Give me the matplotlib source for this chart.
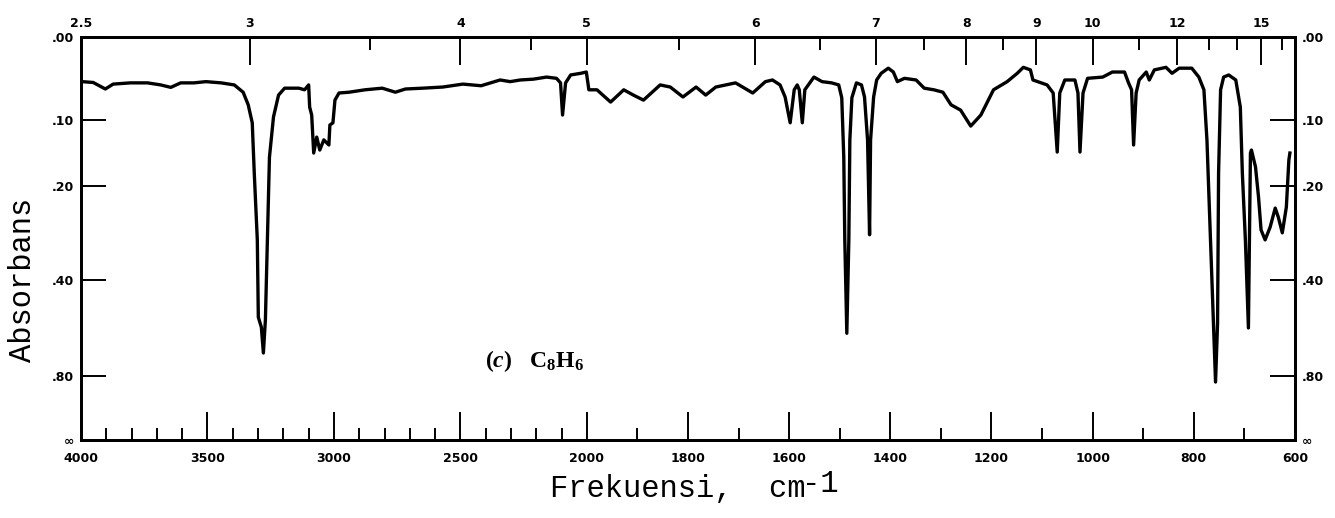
import numpy as np
import matplotlib
matplotlib.use("Agg")
from matplotlib import pyplot as plt

# teks rumus pakai serif tebal
plt.rcParams['mathtext.fontset'] = 'custom'
plt.rcParams['mathtext.rm'] = 'Liberation Serif:bold'
plt.rcParams['mathtext.it'] = 'Liberation Serif:italic:bold'
plt.rcParams['mathtext.bf'] = 'Liberation Serif:bold'

# spektrum IR C8H6
wavenumber = [3996, 3952, 3904, 3873, 3805, 3737, 3685, 3645, 3606, 3554, 3506, 3446, 3394,
              3359, 3339, 3323, 3315, 3303, 3299, 3287, 3279, 3271, 3263, 3255, 3239, 3219,
              3195, 3139, 3116, 3100, 3096, 3088, 3080, 3068, 3056, 3040, 3020, 3016, 3004,
              2996, 2980, 2940, 2877, 2809, 2757, 2717, 2649,
              2570, 2490, 2418, 2343, 2303, 2263, 2211, 2159, 2120, 2104, 2096, 2084, 2064,
              2024, 2002, 1996, 1980, 1953, 1927, 1908, 1888, 1855, 1835, 1810, 1784, 1765,
              1745, 1706, 1672, 1647, 1633, 1618, 1608, 1598, 1590, 1584, 1580, 1574, 1569,
              1551, 1535, 1516, 1502, 1496, 1492, 1490, 1486, 1482, 1480, 1476, 1467, 1457,
              1451, 1445, 1441, 1439, 1433, 1427, 1418, 1404, 1394, 1386, 1372, 1349, 1333,
              1314, 1296, 1280, 1261, 1241, 1221, 1196, 1169, 1149, 1137, 1123, 1118, 1090,
              1078, 1070, 1065, 1055, 1035, 1029, 1025, 1019, 1010,
              980, 961, 937, 929, 923, 919, 914, 908, 894, 888, 878, 855, 843, 829, 804, 790,
              780, 774, 767, 761, 757, 753, 751, 747, 741, 731, 717, 708, 704, 698, 692, 690,
              688, 686, 678, 672, 667, 659, 649, 639, 633, 625, 617, 612, 610]
absorbance = [0.051, 0.052, 0.060, 0.054, 0.0525, 0.0525, 0.055, 0.058, 0.0525, 0.0525, 0.051,
              0.0525, 0.055, 0.064, 0.080, 0.104, 0.179, 0.304, 0.516, 0.553, 0.666, 0.526,
              0.304, 0.154, 0.096, 0.0676, 0.059, 0.059, 0.061, 0.055, 0.083, 0.0935, 0.1475,
              0.124, 0.143, 0.128, 0.1355, 0.107, 0.104, 0.074, 0.065, 0.064, 0.061, 0.059,
              0.064, 0.060, 0.059,
              0.0576, 0.054, 0.056, 0.049, 0.051, 0.049, 0.048, 0.0455, 0.047, 0.0525, 0.0935,
              0.0525, 0.043, 0.041, 0.0395, 0.061, 0.061, 0.0765, 0.061, 0.0676, 0.074, 0.055,
              0.0576, 0.070, 0.0576, 0.0676, 0.0576, 0.0525, 0.065, 0.051, 0.049, 0.055, 0.070,
              0.104, 0.061, 0.055, 0.061, 0.104, 0.061, 0.0455, 0.051, 0.0525, 0.055, 0.071,
              0.154, 0.304, 0.577, 0.304, 0.128, 0.071, 0.0525, 0.055, 0.070, 0.128, 0.293,
              0.128, 0.070, 0.049, 0.041, 0.035, 0.0395, 0.051, 0.047, 0.049, 0.059, 0.061,
              0.064, 0.080, 0.087, 0.1085, 0.0935, 0.061, 0.051, 0.041, 0.034, 0.037, 0.049,
              0.055, 0.065, 0.146, 0.065, 0.049, 0.049, 0.065, 0.146, 0.065, 0.047,
              0.0455, 0.0395, 0.0395, 0.0525, 0.061, 0.1355, 0.065, 0.049, 0.0395, 0.049,
              0.037, 0.034, 0.041, 0.035, 0.035, 0.0455, 0.061, 0.128, 0.304, 0.538, 0.842,
              0.538, 0.179, 0.061, 0.0455, 0.043, 0.049, 0.083, 0.179, 0.304, 0.556, 0.304,
              0.1475, 0.143, 0.169, 0.220, 0.283, 0.304, 0.277, 0.240, 0.257, 0.289, 0.238,
              0.158, 0.1475]

# sumbu bawah (cm-1)
wn_major = [4000, 3500, 3000, 2500, 2000, 1800, 1600, 1400, 1200, 1000, 800, 600]
wn_minor = [3900, 3800, 3700, 3600, 3400, 3300, 3200, 3100, 2900, 2800, 2700, 2600,
            2400, 2300, 2200, 2100, 1900, 1700, 1500, 1300, 1100, 900, 700]
# sumbu atas (mikron)
micron_major = [2.5, 3, 4, 5, 6, 7, 8, 9, 10, 12, 15]
micron_labels = ['2.5', '3', '4', '5', '6', '7', '8', '9', '10', '12', '15']
micron_minor = [3.5, 4.5, 5.5, 6.5, 7.5, 8.5, 11, 13, 14, 16]
# sumbu absorbans
abs_ticks = [0, 0.1, 0.2, 0.4, 0.8, 6]
abs_labels = ['.00', '.10', '.20', '.40', '.80', '∞']


def fwd_x(x):
    """skala ganda di bawah 2000 cm-1"""
    x = np.asarray(x, dtype=float)
    return np.where(x >= 2000, x, 2 * x - 2000)


def inv_x(u):
    u = np.asarray(u, dtype=float)
    return np.where(u >= 2000, u, (u + 2000) / 2)


def fwd_y(a):
    """absorbans -> linear terhadap transmitans"""
    return 1 - 10 ** (-np.asarray(a, dtype=float))


def inv_y(t):
    return -np.log10(np.clip(1 - np.asarray(t, dtype=float), 1e-9, None))


fig = plt.figure(figsize=(13.35, 5.18), dpi=100)
ax = fig.add_axes([0.0607, 0.1506, 0.9093, 0.7780])

ax.plot(wavenumber, absorbance, color='black', linewidth=2.4)

ax.set_xscale('function', functions=(fwd_x, inv_x))
ax.set_yscale('function', functions=(fwd_y, inv_y))
ax.set_xlim(4000, 600)
ax.set_ylim(6, 0)

tick_font = dict(fontsize=9, fontweight='bold')
ax.set_xticks(wn_major, [str(v) for v in wn_major], **tick_font)
ax.set_xticks(wn_minor, minor=True)
ax.set_yticks(abs_ticks, abs_labels, **tick_font)
ax.tick_params(axis='x', which='major', direction='in', length=20, width=1.4, pad=9)
ax.tick_params(axis='x', which='minor', direction='in', length=9, width=1.4)
ax.tick_params(axis='y', direction='in', length=18, width=1.4, pad=5,
               left=True, right=True, labelleft=True, labelright=True)

ax2 = ax.twiny()
ax2.set_xscale('function', functions=(fwd_x, inv_x))
ax2.set_xlim(4000, 600)
ax2.set_xticks([1e4 / m for m in micron_major], micron_labels, **tick_font)
ax2.set_xticks([1e4 / m for m in micron_minor], minor=True)
ax2.tick_params(axis='x', which='major', direction='in', length=20, width=1.4, pad=5)
ax2.tick_params(axis='x', which='minor', direction='in', length=9, width=1.4)

for a in (ax, ax2):
    for s in a.spines.values():
        s.set_linewidth(2)

ax.text(0.333, 0.195, r'$(\mathit{c})\ \ \ \mathrm{C}_8\mathrm{H}_6$', transform=ax.transAxes,
        fontsize=17, ha='left', va='center')

fig.text(0.0175, 0.459, 'Absorbans', rotation=90, ha='center', va='center',
         family='Liberation Mono', fontsize=22)
fig.text(0.412, 0.04, 'Frekuensi,  cm', ha='left', va='baseline',
         family='Liberation Mono', fontsize=22)
fig.text(0.601, 0.05, '-1', ha='left', va='baseline',
         family='Liberation Mono', fontsize=22)

fig.savefig('out.png', dpi=100)
